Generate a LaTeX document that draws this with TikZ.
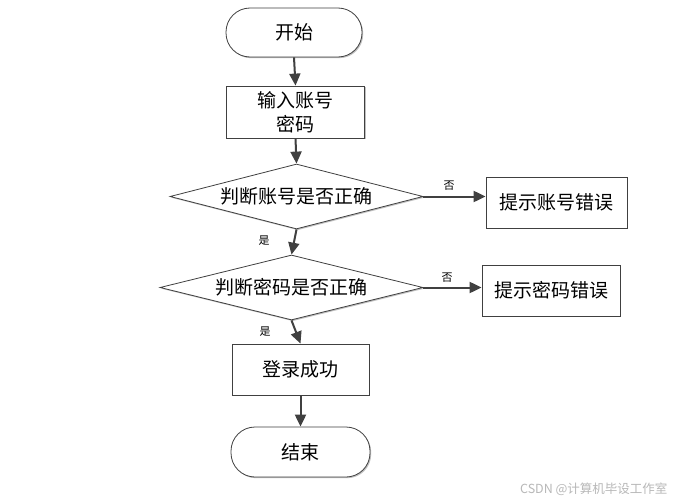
\documentclass[tikz,border=0pt]{standalone}
\usepackage{fontspec}
\newfontfamily\cjk{Noto Sans CJK SC}
\usetikzlibrary{shapes.geometric,arrows.meta,shadows}
\definecolor{ln}{HTML}{404040}
\begin{document}
\begin{tikzpicture}[x=1pt,y=-1pt,
  base/.style={draw=ln,line width=0.8pt,fill=white,font=\cjk\fontsize{19}{23}\selectfont,align=center,inner sep=0pt,
    drop shadow={shadow xshift=1.2pt,shadow yshift=-1.2pt,fill=black!25,opacity=1}},
  term/.style={base,rounded corners=24pt},
  procbox/.style={base},
  decide/.style={base,diamond,aspect=3.9},
  conn/.style={draw=ln,line width=2pt,-{Triangle[length=12pt,width=11pt]}},
  lbl/.style={font=\cjk\fontsize{11}{13}\selectfont,text=black}]
\useasboundingbox[fill=white] (0,0) rectangle (677,503);
\node[term,minimum width=136pt,minimum height=49pt] (start) at (294,32.5) {开始};
\node[procbox,minimum width=138pt,minimum height=52pt] (input) at (295.5,112) {输入账号\\[1pt]密码};
\node[decide,minimum width=253pt,minimum height=65pt] (d1) at (296.5,196.5) {判断账号是否正确};
\node[procbox,minimum width=141pt,minimum height=51pt] (e1) at (556.5,202.5) {提示账号错误};
\node[decide,minimum width=263pt,minimum height=65pt] (d2) at (291.5,287.5) {判断密码是否正确};
\node[procbox,minimum width=138pt,minimum height=51pt] (e2) at (551,290.5) {提示密码错误};
\node[procbox,minimum width=137pt,minimum height=51pt] (ok) at (300.5,369.5) {登录成功};
\node[term,minimum width=139pt,minimum height=50pt] (end) at (300.5,452) {结束};
\draw[conn] (start.south) -- (input.north);
\draw[conn] (input.south) -- (d1.north);
\draw[conn] (d1.east) -- (e1.west |- d1.east);
\draw[conn] (d1.south) -- (d2.north);
\draw[conn] (d2.east) -- (e2.west |- d2.east);
\draw[conn] (d2.south) -- (ok.north);
\draw[conn] (ok.south) -- (end.north);
\node[lbl] (n1) at (449,186) {否};
\node[lbl] (y1) at (264,241) {是};
\node[lbl] (n2) at (447,278) {否};
\node[lbl] (y2) at (265,332) {是};
\node[font=\cjk\fontsize{12.5}{14}\selectfont,text=black!28,anchor=east] (wm) at (671,489) {CSDN @计算机毕设工作室};
\end{tikzpicture}
\end{document}
